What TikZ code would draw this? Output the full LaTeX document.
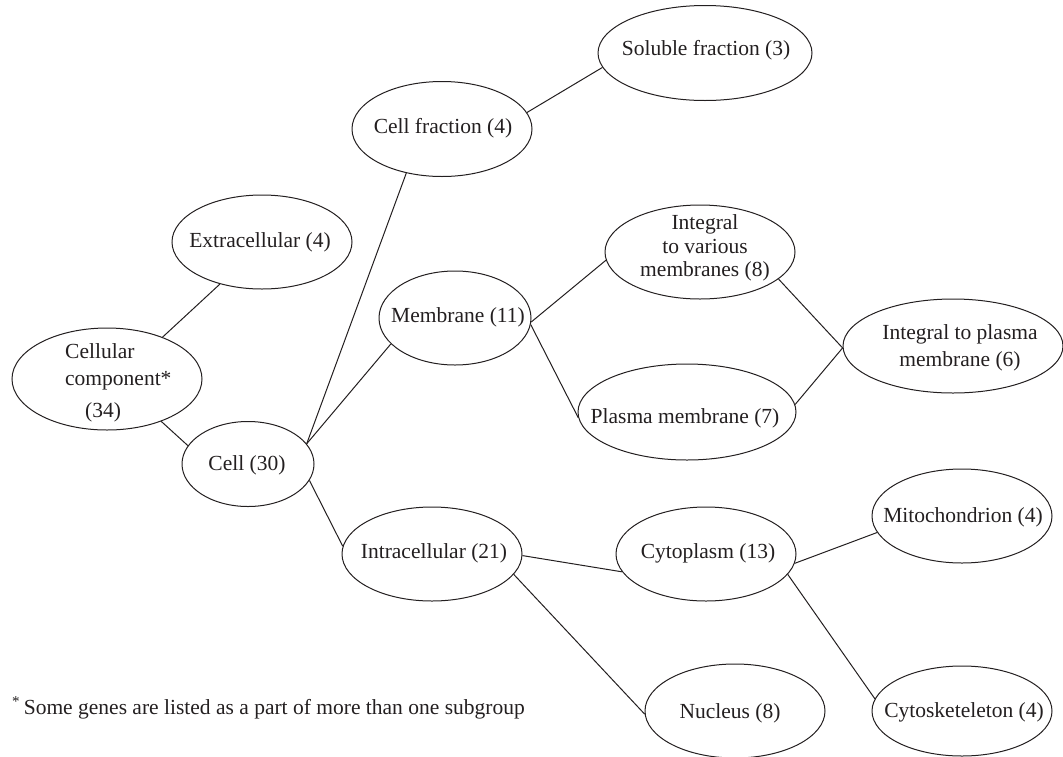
\documentclass[tikz,border=0pt]{standalone}
\usepackage{fontspec}
\setmainfont{Liberation Serif}
\usetikzlibrary{shapes.geometric}
\definecolor{ink}{HTML}{231F20}
\begin{document}
\begin{tikzpicture}[x=1pt,y=-1pt,
  ell/.style={draw=ink, ellipse, inner sep=0pt, line width=1pt},
  txt/.style={inner sep=0pt, align=center, text=ink, font=\fontsize{21.5pt}{23.5pt}\selectfont},
  link/.style={draw=ink, line width=1pt}]
\useasboundingbox (0,0) rectangle (1063,756);
% ellipses
\node[ell, minimum width=190pt, minimum height=102pt] (cc) at (107,379) {};
\node[ell, minimum width=180pt, minimum height=94pt] (ext) at (262,242) {};
\node[ell, minimum width=132pt, minimum height=85pt] (cell) at (248,464) {};
\node[ell, minimum width=180pt, minimum height=95pt] (cf) at (442,129) {};
\node[ell, minimum width=214pt, minimum height=95pt] (sf) at (705,53) {};
\node[ell, minimum width=152pt, minimum height=94pt] (mem) at (455,318) {};
\node[ell, minimum width=190pt, minimum height=94pt] (iv) at (700,252) {};
\node[ell, minimum width=218pt, minimum height=96pt] (pm) at (687,412) {};
\node[ell, minimum width=220pt, minimum height=94pt] (ip) at (953,346) {};
\node[ell, minimum width=180pt, minimum height=94pt] (ic) at (432,554) {};
\node[ell, minimum width=180pt, minimum height=94pt] (cy) at (706,554) {};
\node[ell, minimum width=180pt, minimum height=94pt] (mi) at (962,516) {};
\node[ell, minimum width=180pt, minimum height=94pt] (nu) at (735,711) {};
\node[ell, minimum width=180pt, minimum height=90pt] (ck) at (962,711) {};
% texts
\node[txt, anchor=west, align=left, font=\fontsize{21.5pt}{27pt}\selectfont] (cc-t) at (65,366.5) {Cellular\\component*};
\node[txt] (cc-n) at (103,412) {(34)};
\node[txt] (ext-t) at (260,242) {Extracellular (4)};
\node[txt] (cell-t) at (247,465) {Cell (30)};
\node[txt] (cf-t) at (443,128) {Cell fraction (4)};
\node[txt] (sf-t) at (706,50) {Soluble fraction (3)};
\node[txt] (mem-t) at (458,317) {Membrane (11)};
\node[txt] (iv-t) at (705,248) {Integral\\to various\\membranes (8)};
\node[txt] (pm-t) at (685,418) {Plasma membrane (7)};
\node[txt, font=\fontsize{21.5pt}{27pt}\selectfont] (ip-t) at (960,348) {Integral to plasma\\membrane (6)};
\node[txt] (ic-t) at (434,553) {Intracellular (21)};
\node[txt] (cy-t) at (708,553) {Cytoplasm (13)};
\node[txt] (mi-t) at (963,517) {Mitochondrion (4)};
\node[txt] (nu-t) at (730,713) {Nucleus (8)};
\node[txt] (ck-t) at (964,712) {Cytosketeleton (4)};
\node[txt, anchor=west] (fn) at (12,708) {\textsuperscript{*}\,Some genes are listed as a part of more than one subgroup};
% connectors
\draw[link] (cc.37.4) -- (ext.225);
\draw[link] (cc.322.5) -- (cell.163.6);
\draw[link] (cell.19.9) -- (cf.231.5);
\draw[link] (cell.19.9) -- (mem.202.4);
\draw[link] (cell.345.5) -- (ic.175.5);
\draw[link] (cf.11.3) -- (sf.188.1);
\draw[link] (mem.357) -- (iv.185.6);
\draw[link] (mem.355) -- (pm.183.2);
\draw[link] (iv.341) -- (ip.181);
\draw[link] (pm.4.8) -- (ip.181);
\draw[link] (ic.359.4) -- (cy.192.9);
\draw[link] (ic.346.5) -- (nu.182.5);
\draw[link] (cy.354.3) -- (mi.191.8);
\draw[link] (cy.346.6) -- (ck.172.8);
\end{tikzpicture}
\end{document}
